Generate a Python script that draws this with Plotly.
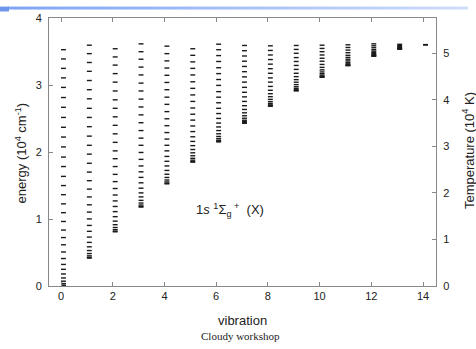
import plotly.graph_objects as go

# vibrational quantum numbers
vib = list(range(15))

# level energies (10^4 cm^-1) for each v, rotational ladder J = 0, 1, 2, ...
E_v0 = [0.000, 0.012, 0.036, 0.072, 0.120, 0.180, 0.249, 0.322, 0.410, 0.508, 0.615,
        0.723, 0.835, 0.963, 1.094, 1.226, 1.363, 1.499, 1.636, 1.783, 1.924, 2.076,
        2.223, 2.369, 2.516, 2.667, 2.813, 2.964, 3.106, 3.248, 3.389, 3.527]
E_v1 = [0.416, 0.427, 0.450, 0.484, 0.529, 0.585, 0.651, 0.730, 0.816, 0.904, 1.001,
        1.103, 1.212, 1.329, 1.446, 1.572, 1.700, 1.832, 1.968, 2.100, 2.237, 2.378,
        2.516, 2.652, 2.794, 2.930, 3.067, 3.204, 3.336, 3.468, 3.594]
E_v2 = [0.809, 0.819, 0.841, 0.873, 0.915, 0.968, 1.035, 1.110, 1.187, 1.270, 1.358,
        1.455, 1.558, 1.666, 1.783, 1.900, 2.017, 2.144, 2.271, 2.398, 2.525, 2.652,
        2.779, 2.911, 3.043, 3.170, 3.297, 3.419, 3.541]
E_v3 = [1.178, 1.188, 1.208, 1.238, 1.278, 1.330, 1.390, 1.460, 1.540, 1.621, 1.704,
        1.792, 1.890, 1.993, 2.100, 2.207, 2.320, 2.437, 2.554, 2.672, 2.789, 2.911,
        3.028, 3.150, 3.267, 3.385, 3.497, 3.614]
E_v4 = [1.525, 1.534, 1.553, 1.582, 1.620, 1.668, 1.725, 1.792, 1.861, 1.934, 2.017,
        2.100, 2.193, 2.290, 2.393, 2.496, 2.603, 2.711, 2.818, 2.930, 3.038, 3.145,
        3.253, 3.360, 3.468, 3.580]
E_v5 = [1.849, 1.858, 1.878, 1.906, 1.944, 1.988, 2.037, 2.095, 2.158, 2.227, 2.305,
        2.388, 2.476, 2.564, 2.657, 2.755, 2.852, 2.950, 3.048, 3.150, 3.248, 3.345,
        3.443, 3.541]
E_v6 = [2.151, 2.159, 2.175, 2.200, 2.232, 2.272, 2.320, 2.374, 2.432, 2.501, 2.574,
        2.652, 2.735, 2.818, 2.901, 2.994, 3.082, 3.170, 3.258, 3.351, 3.439, 3.527,
        3.609]
E_v7 = [2.429, 2.436, 2.452, 2.474, 2.504, 2.541, 2.585, 2.635, 2.691, 2.755, 2.823,
        2.891, 2.965, 3.043, 3.121, 3.199, 3.277, 3.355, 3.433, 3.512, 3.590]
E_v8 = [2.683, 2.690, 2.704, 2.725, 2.752, 2.786, 2.826, 2.870, 2.921, 2.979, 3.043,
        3.106, 3.175, 3.243, 3.311, 3.380, 3.448, 3.516, 3.585]
E_v9 = [2.912, 2.919, 2.931, 2.949, 2.974, 3.006, 3.042, 3.080, 3.125, 3.175, 3.233,
        3.292, 3.351, 3.409, 3.473, 3.531, 3.590]
E_v10 = [3.115, 3.120, 3.131, 3.147, 3.169, 3.195, 3.226, 3.263, 3.307, 3.355, 3.399,
         3.448, 3.497, 3.546, 3.594]
E_v11 = [3.289, 3.293, 3.302, 3.316, 3.336, 3.360, 3.385, 3.412, 3.443, 3.482, 3.521,
         3.560, 3.600]
E_v12 = [3.430, 3.434, 3.441, 3.452, 3.467, 3.484, 3.505, 3.527, 3.556, 3.585, 3.614]
E_v13 = [3.535, 3.538, 3.543, 3.551, 3.561, 3.574, 3.590, 3.607]
E_v14 = [3.597, 3.603]

levels = [E_v0, E_v1, E_v2, E_v3, E_v4, E_v5, E_v6, E_v7, E_v8, E_v9,
          E_v10, E_v11, E_v12, E_v13, E_v14]

x_ticks = [0, 2, 4, 6, 8, 10, 12, 14]
e_ticks = [0, 1, 2, 3, 4]
t_ticks = [0, 1, 2, 3, 4, 5]
E_MAX = 4.0
K_PER_CM = 1.4388  # hc/k: 1 cm^-1 = 1.4388 K

DASH = 0.19
fig = go.Figure()
for v, es in zip(vib, levels):
    xs, ys = [], []
    for e in es:
        xs += [v, v + DASH, None]
        ys += [e, e, None]
    fig.add_trace(go.Scatter(x=xs, y=ys, mode="lines",
                             line=dict(color="#1a1a1a", width=1.4),
                             showlegend=False, hoverinfo="skip"))

# carrier trace for the temperature axis
fig.add_trace(go.Scatter(x=[0], y=[0], yaxis="y2", mode="markers",
                         marker=dict(opacity=0), showlegend=False, hoverinfo="skip"))

tickfont = dict(family="Liberation Sans, Arial, sans-serif", size=11, color="#222")
axcol = "#888888"

fig.update_layout(
    width=476, height=349,
    margin=dict(l=49, r=40, t=13, b=63),
    paper_bgcolor="white", plot_bgcolor="white",
    showlegend=False,
    xaxis=dict(range=[-0.464, 14.5], tickvals=x_ticks, ticks="inside", ticklen=4,
               tickcolor=axcol, showline=True, linecolor=axcol, linewidth=1,
               mirror="ticks", showgrid=False, zeroline=False, tickfont=tickfont),
    yaxis=dict(range=[0, E_MAX], tickvals=e_ticks, ticks="inside", ticklen=4,
               tickcolor=axcol, showline=True, linecolor=axcol, linewidth=1,
               showgrid=False, zeroline=False, tickfont=tickfont,
               ticklabelstandoff=4),
    yaxis2=dict(range=[0, E_MAX * K_PER_CM], tickvals=t_ticks, overlaying="y",
                side="right", ticks="inside", ticklen=4, tickcolor=axcol,
                showline=True, linecolor=axcol, linewidth=1, showgrid=False,
                zeroline=False, tickfont=tickfont, ticklabelstandoff=4),
)

title_font = dict(family="Liberation Sans, Arial, sans-serif", size=13, color="#222")
fig.add_annotation(text="energy (10<sup>4</sup> cm<sup>-1</sup>)", xref="paper", yref="paper",
                   x=-0.072, y=0.495, textangle=-90, showarrow=False, font=title_font,
                   xanchor="center", yanchor="middle")
fig.add_annotation(text="Temperature (10<sup>4</sup> K)", xref="paper", yref="paper",
                   x=1.083, y=0.504, textangle=-90, showarrow=False, font=title_font,
                   xanchor="center", yanchor="middle")
fig.add_annotation(text="vibration", xref="paper", yref="paper", x=0.5, y=-0.127,
                   showarrow=False, font=title_font, xanchor="center", yanchor="middle")
fig.add_annotation(text="Cloudy workshop", xref="paper", yref="paper", x=0.495, y=-0.188,
                   showarrow=False, xanchor="center", yanchor="middle",
                   font=dict(family="Liberation Serif, Times New Roman, serif", size=11,
                             color="#222"))
fig.add_annotation(text="1<i>s</i> <sup>1</sup>Σ<sub>g</sub><sup> +</sup>  (X)",
                   x=6.54, y=1.13, xref="x", yref="y", showarrow=False,
                   font=title_font, xanchor="center", yanchor="middle")

# blue gradient banner at the top of the slide
n = 60
x0p, x1p = -0.106, 1.081
c0 = (126, 164, 245)
c1 = (205, 220, 249)
for i in range(n):
    f = i / (n - 1)
    col = "rgb(%d,%d,%d)" % tuple(round(a + (b - a) * f) for a, b in zip(c0, c1))
    xa = x0p + (x1p - x0p) * i / n
    xb = x0p + (x1p - x0p) * (i + 1) / n + 0.001
    fig.add_shape(type="rect", xref="paper", yref="paper", x0=xa, x1=xb,
                  y0=1.0316, y1=1.0426, fillcolor=col, line=dict(width=0), layer="above")
fig.add_shape(type="rect", xref="paper", yref="paper", x0=-0.1267, x1=-0.1034,
              y0=1.0243, y1=1.0426, fillcolor="rgb(110,150,235)", line=dict(width=0))

fig.write_html("out.html", config={"displayModeBar": False},
               post_script="document.body.style.margin='0';document.body.style.padding='0';")
